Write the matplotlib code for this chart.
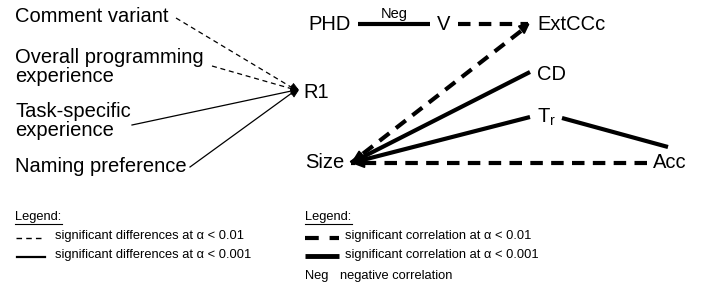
import numpy as np
import matplotlib.pyplot as plt
from matplotlib.patches import FancyArrowPatch

plt.rcParams['font.family'] = ['Liberation Sans', 'DejaVu Sans']

# left panel: factors with significant differences on R1
factors = ["Comment variant", "Overall programming\nexperience",
           "Task-specific\nexperience", "Naming preference"]
factor_alpha = [0.01, 0.01, 0.001, 0.001]

# right panel: correlations between metrics
corr_edges = [("PHD", "V", 0.001), ("V", "ExtCCc", 0.01),
              ("ExtCCc", "Size", 0.01), ("CD", "Size", 0.001),
              ("Tr", "Size", 0.001), ("Tr", "Acc", 0.001),
              ("Acc", "Size", 0.01)]
negative_edges = [("PHD", "V")]

# layout (pixels)
factor_text_xy = [(15, 17), (15, 67), (15, 121), (15, 167)]
factor_line_start = [(176, 18), (212, 66), (132, 125), (190, 167)]
r1_tip = (299, 90)

node_xy = {"PHD": (308, 24), "V": (437, 24), "ExtCCc": (537, 24),
           "CD": (537, 74), "Tr": (537, 117), "Size": (305, 163),
           "Acc": (653, 163)}
node_label = {"Tr": "T$_\\mathregular{r}$"}
# where each edge attaches (start, end)
edge_pts = {("PHD", "V"): ((358, 24), (430, 24)),
            ("V", "ExtCCc"): ((458, 24), (528, 24)),
            ("ExtCCc", "Size"): ((521, 31), (351, 163)),
            ("CD", "Size"): ((530, 72), (351, 163)),
            ("Tr", "Size"): ((530, 117), (351, 163)),
            ("Tr", "Acc"): ((562, 118), (668, 147)),
            ("Acc", "Size"): ((647, 163), (351, 163))}


def head(ax, p0, p1, length, hw, lw):
    # solid arrow head at p1, pointing from p0 to p1
    p0 = np.array(p0, float)
    p1 = np.array(p1, float)
    d = (p1 - p0) / np.linalg.norm(p1 - p0)
    base = p1 - d * length
    ax.add_patch(FancyArrowPatch(tuple(base), tuple(p1),
                                 arrowstyle=f"-|>,head_length={length},head_width={hw}",
                                 linewidth=lw, color="black", shrinkA=0,
                                 shrinkB=0, mutation_scale=1))


fig = plt.figure(figsize=(7.11, 2.91), dpi=100)
ax = fig.add_axes([0, 0, 1, 1])
ax.set_xlim(0, 711)
ax.set_ylim(291, 0)
ax.axis("off")

fs = 14.5
for name, (x, y) in zip(factors, factor_text_xy):
    ax.text(x, y, name, fontsize=fs, va="center", ha="left", linespacing=1.0)

for start, a in zip(factor_line_start, factor_alpha):
    ls = (0, (4, 3)) if a == 0.01 else "-"
    ax.plot([start[0], r1_tip[0] - 3], [start[1], r1_tip[1]], color="black",
            lw=0.9, linestyle=ls)
    head(ax, start, r1_tip, 5, 2, 0.6)
ax.text(303, 92, "R1", fontsize=fs, va="center", ha="left")

for n, (x, y) in node_xy.items():
    ax.text(x, y, node_label.get(n, n), fontsize=fs, va="center", ha="left")

for a, b, alpha in corr_edges:
    p0, p1 = edge_pts[(a, b)]
    ls = (0, (3, 2)) if alpha == 0.01 else "-"
    ax.plot([p0[0], p1[0]], [p0[1], p1[1]], color="black", lw=3,
            linestyle=ls, solid_capstyle="butt", dash_capstyle="butt")
    if b == "Size":
        head(ax, p0, p1, 8, 3, 1.2)
    if (a, b) == ("ExtCCc", "Size"):
        head(ax, p1, (530, 23), 6, 3, 1.5)

for a, b in negative_edges:
    p0, p1 = edge_pts[(a, b)]
    ax.text((p0[0] + p1[0]) / 2, p0[1] - 3, "Neg", fontsize=10.5, ha="center",
            va="bottom")

# legends
lfs = 9.3
for x0, kind in [(15, "differences"), (305, "correlation")]:
    ax.text(x0, 217, "Legend:", fontsize=lfs, va="center", ha="left")
    ax.plot([x0, x0 + 47], [224, 224], color="black", lw=0.8)
    if kind == "differences":
        tx = 55
        ax.plot([16, 42], [238, 238], color="black", lw=1, linestyle=(0, (4, 3)))
        ax.plot([17, 45], [257, 257], color="black", lw=1.6)
    else:
        tx = 345
        ax.plot([305, 339], [238, 238], color="black", lw=3,
                linestyle=(0, (3.3, 2.6)), dash_capstyle="butt")
        ax.plot([305, 339], [256, 256], color="black", lw=3.5,
                solid_capstyle="butt")
    ax.text(tx, 236, f"significant {kind} at α < 0.01", fontsize=lfs,
            va="center", ha="left")
    ax.text(tx, 255, f"significant {kind} at α < 0.001", fontsize=lfs,
            va="center", ha="left")
ax.text(305, 276, "Neg", fontsize=lfs, va="center", ha="left")
ax.text(340, 276, "negative correlation", fontsize=lfs, va="center", ha="left")

fig.savefig("out.png", dpi=100)
